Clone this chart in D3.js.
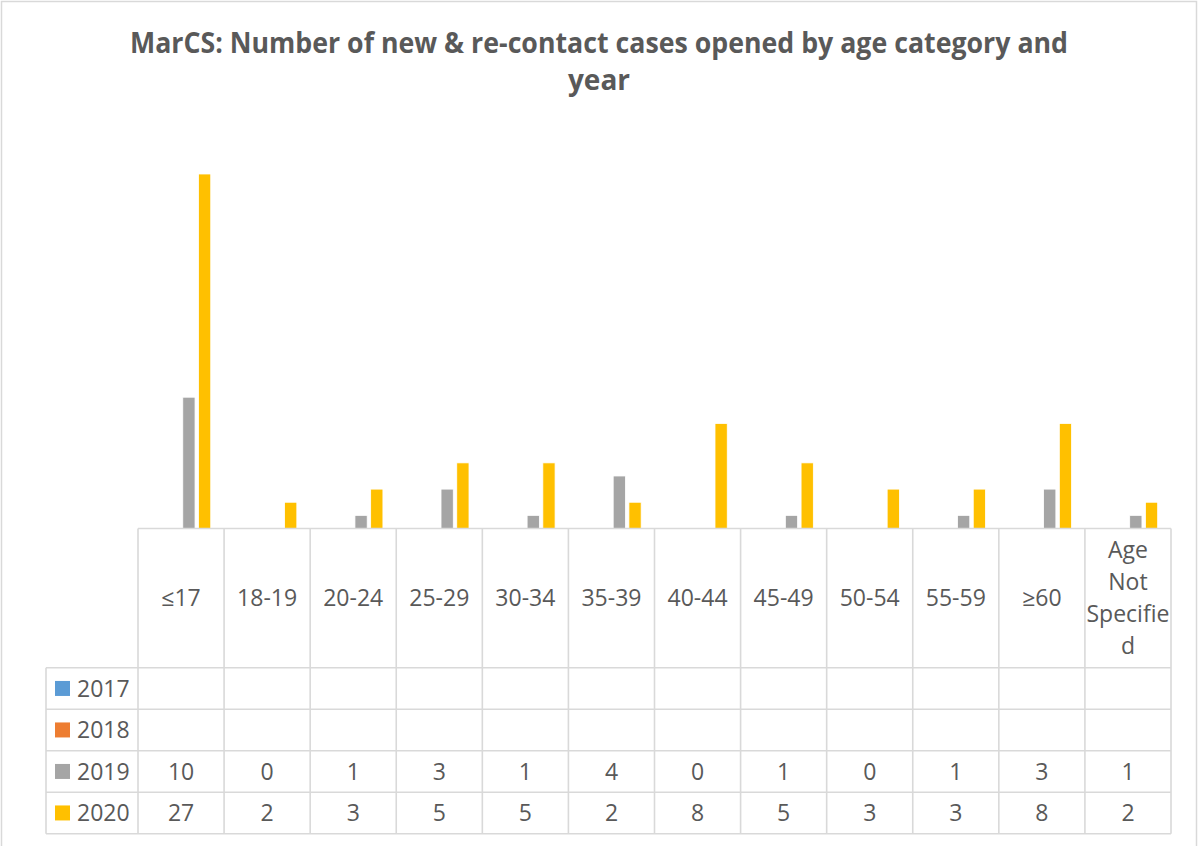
<!DOCTYPE html>
<html><head><meta charset="utf-8">
<script src="https://cdn.jsdelivr.net/npm/d3@7"></script>
<style>body{margin:0;background:#fff}svg{display:block}</style>
</head><body>
<script>
const categories = ["≤17","18-19","20-24","25-29","30-34","35-39","40-44","45-49","50-54","55-59","≥60","Age Not Specified"];
const categoryLines = [["≤17"],["18-19"],["20-24"],["25-29"],["30-34"],["35-39"],["40-44"],["45-49"],["50-54"],["55-59"],["≥60"],["Age","Not","Specifie","d"]];
const years = ["2017","2018","2019","2020"];
const values2017 = [null,null,null,null,null,null,null,null,null,null,null,null];
const values2018 = [null,null,null,null,null,null,null,null,null,null,null,null];
const values2019 = [10,0,1,3,1,4,0,1,0,1,3,1];
const values2020 = [27,2,3,5,5,2,8,5,3,3,8,2];
const colors = ["#5B9BD5","#ED7D31","#A5A5A5","#FFC000"];
const titleLines = ["MarCS: Number of new & re-contact cases opened by age category and","year"];

const series = [values2017, values2018, values2019, values2020];
const W = 1201, H = 846;
const grid = "#d9d9d9", txt = "#595959";
const font = "'Open Sans', sans-serif";

const svg = d3.select("body").append("svg").attr("width", W).attr("height", H);
svg.append("rect").attr("x",1.5).attr("y",1.5).attr("width",1195).attr("height",860)
  .attr("fill","#fff").attr("stroke",grid).attr("stroke-width",1.5);

// title
svg.append("g").selectAll("text").data(titleLines).join("text")
  .attr("x", 599).attr("y",(d,i)=>53+i*37)
  .attr("text-anchor","middle").attr("font-family",font).attr("font-weight","bold")
  .attr("font-size",28).attr("fill",txt)
  .each(function(d,i){ if(i===0) d3.select(this).attr("textLength",938).attr("lengthAdjust","spacingAndGlyphs"); })
  .text(d=>d);

const tableLeft = 138, tableRight = 1171, tableTop = 528.5, headerBottom = 667.7, tableBottom = 833.7, legendLeft = 46;
const x0 = d3.scaleBand().domain(categories).range([tableLeft, tableRight]).padding(0);
const x1 = d3.scaleBand().domain(years).range([11.6, x0.bandwidth()-11.6]).paddingInner(0.22).paddingOuter(0.11);
const y = d3.scaleLinear().domain([0,30]).range([tableTop, tableTop-30*13.13]);
const rowY = d3.scaleBand().domain(years).range([headerBottom, tableBottom]);

// bars
const bars = [];
categories.forEach((c,ci)=>series.forEach((s,si)=>{ if(s[ci]!=null) bars.push({c, yr:years[si], v:s[ci], col:colors[si]}); }));
svg.append("g").selectAll("rect").data(bars).join("rect")
  .attr("x",d=>x0(d.c)+x1(d.yr)).attr("width",x1.bandwidth())
  .attr("y",d=>y(d.v)).attr("height",d=>y(0)-y(d.v))
  .attr("fill",d=>d.col).attr("stroke","#fff").attr("stroke-width",0.8);

// table lines
const gl = svg.append("g").attr("stroke",grid).attr("stroke-width",1.6).attr("fill","none");
gl.append("line").attr("x1",tableLeft).attr("x2",tableRight).attr("y1",tableTop).attr("y2",tableTop);
[headerBottom, ...years.map(yr=>rowY(yr)+rowY.bandwidth())].forEach(yy=>
  gl.append("line").attr("x1",legendLeft).attr("x2",tableRight).attr("y1",yy).attr("y2",yy));
[...categories.map(c=>x0(c)), tableRight].forEach(xx=>
  gl.append("line").attr("x1",xx).attr("x2",xx).attr("y1",tableTop).attr("y2",tableBottom));
gl.append("line").attr("x1",legendLeft).attr("x2",legendLeft).attr("y1",headerBottom).attr("y2",tableBottom);

// header text
const hdr = svg.append("g").attr("font-family",font).attr("font-size",23).attr("fill",txt).attr("text-anchor","middle");
categoryLines.forEach((lines,ci)=>{
  const cx = x0(categories[ci]) + x0.bandwidth()/2;
  const cy = (tableTop+headerBottom)/2;
  const lh = 32;
  lines.forEach((l,li)=>{
    hdr.append("text").attr("x",cx).attr("y",cy + (li-(lines.length-1)/2)*lh).attr("dy","0.36em").text(l);
  });
});

// legend + values
const rows = svg.append("g").attr("font-family",font).attr("font-size",23).attr("fill",txt);
years.forEach((yr,si)=>{
  const cy = rowY(yr)+rowY.bandwidth()/2;
  rows.append("rect").attr("x",55).attr("y",cy-7.5).attr("width",15).attr("height",15).attr("fill",colors[si]);
  rows.append("text").attr("x",77).attr("y",cy).attr("dy","0.36em").text(yr);
  categories.forEach((c,ci)=>{
    const v = series[si][ci];
    if(v!=null) rows.append("text").attr("x",x0(c)+x0.bandwidth()/2).attr("y",cy).attr("dy","0.36em")
      .attr("text-anchor","middle").text(v);
  });
});
</script>
</body></html>
